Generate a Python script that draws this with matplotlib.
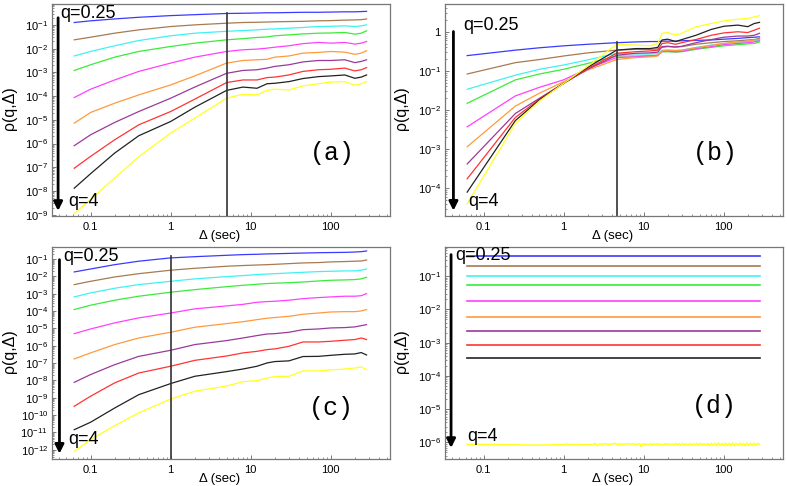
import numpy as np
import matplotlib
matplotlib.use("Agg")
import matplotlib.pyplot as plt
from matplotlib.ticker import LogLocator, NullFormatter

plt.rcParams['font.family'] = ['Liberation Sans', 'DejaVu Sans']
plt.rcParams['axes.unicode_minus'] = False

# q = 0.25 ... 4, top to bottom
colors = ['#3a3aff', '#a87a50', '#40f2f2', '#3aeb3a', '#ff40ff',
          '#ff9a3c', '#9a3a9a', '#ff3333', '#222222', '#ffff22']

# lag in seconds
dt_ac = [0.0625, 0.1, 0.2, 0.4, 1, 2, 5, 8, 12, 16, 20, 30, 45, 70, 100, 150, 200, 240, 280]
dt_b = [0.0625, 0.25, 0.5, 1, 2, 4.6, 8, 12, 15, 17, 20, 25, 30, 45, 70, 100, 150, 200, 240, 280]
dt_d = [0.0625, 280]

# log10 of rho(q, delta)
a_log = [
    [-0.90, -0.83, -0.75, -0.68, -0.61, -0.57, -0.52, -0.51, -0.50, -0.49, -0.49, -0.48, -0.47, -0.47, -0.46, -0.45, -0.45, -0.44, -0.43],
    [-1.63, -1.52, -1.35, -1.21, -1.07, -1.00, -0.93, -0.90, -0.89, -0.88, -0.87, -0.86, -0.85, -0.83, -0.82, -0.80, -0.79, -0.78, -0.75],
    [-2.31, -2.12, -1.88, -1.66, -1.46, -1.35, -1.27, -1.24, -1.21, -1.18, -1.17, -1.14, -1.11, -1.07, -1.06, -1.04, -1.07, -1.04, -1.00],
    [-2.92, -2.68, -2.36, -2.12, -1.91, -1.77, -1.63, -1.58, -1.53, -1.51, -1.46, -1.42, -1.38, -1.35, -1.34, -1.32, -1.39, -1.35, -1.25],
    [-4.06, -3.71, -3.32, -2.96, -2.61, -2.36, -2.12, -2.05, -2.02, -1.98, -1.94, -1.88, -1.79, -1.74, -1.77, -1.74, -1.81, -1.77, -1.70],
    [-5.14, -4.69, -4.30, -3.95, -3.53, -3.15, -2.61, -2.50, -2.47, -2.45, -2.36, -2.31, -2.19, -2.16, -2.12, -2.15, -2.24, -2.19, -2.09],
    [-6.09, -5.63, -5.11, -4.65, -4.09, -3.62, -3.04, -2.92, -2.89, -2.82, -2.75, -2.68, -2.56, -2.50, -2.50, -2.47, -2.59, -2.54, -2.47],
    [-7.04, -6.54, -5.84, -5.21, -4.65, -4.13, -3.43, -3.32, -3.32, -3.22, -3.20, -3.11, -2.96, -2.89, -2.87, -2.82, -2.94, -2.89, -2.80],
    [-7.88, -7.27, -6.40, -5.67, -5.07, -4.47, -3.76, -3.62, -3.67, -3.48, -3.46, -3.39, -3.26, -3.18, -3.15, -3.11, -3.25, -3.20, -3.11],
    [-8.95, -8.35, -7.45, -6.55, -5.56, -4.93, -4.09, -3.92, -3.95, -3.76, -3.71, -3.74, -3.57, -3.48, -3.41, -3.39, -3.54, -3.48, -3.39],
]

b_log = [
    [-0.61, -0.47, -0.41, -0.36, -0.32, -0.28, -0.26, -0.25, -0.25, -0.24, -0.24, -0.24, -0.23, -0.22, -0.21, -0.19, -0.17, -0.15, -0.14, -0.13],
    [-1.08, -0.79, -0.71, -0.62, -0.54, -0.47, -0.45, -0.45, -0.44, -0.40, -0.38, -0.39, -0.38, -0.32, -0.28, -0.25, -0.23, -0.21, -0.20, -0.17],
    [-1.47, -1.11, -0.96, -0.85, -0.72, -0.55, -0.57, -0.57, -0.55, -0.47, -0.47, -0.48, -0.47, -0.40, -0.34, -0.30, -0.27, -0.26, -0.23, -0.21],
    [-1.83, -1.23, -1.08, -0.96, -0.81, -0.62, -0.62, -0.61, -0.60, -0.51, -0.51, -0.52, -0.51, -0.45, -0.40, -0.36, -0.33, -0.31, -0.30, -0.26],
    [-2.43, -1.64, -1.42, -1.23, -0.94, -0.66, -0.64, -0.62, -0.60, -0.51, -0.50, -0.51, -0.50, -0.43, -0.38, -0.33, -0.30, -0.28, -0.26, -0.23],
    [-2.94, -1.90, -1.57, -1.28, -0.98, -0.71, -0.66, -0.64, -0.62, -0.49, -0.47, -0.48, -0.47, -0.41, -0.35, -0.30, -0.26, -0.24, -0.21, -0.19],
    [-3.38, -2.09, -1.70, -1.32, -0.96, -0.60, -0.55, -0.54, -0.52, -0.38, -0.37, -0.39, -0.37, -0.28, -0.20, -0.14, -0.11, -0.11, -0.09, -0.04],
    [-3.76, -2.19, -1.72, -1.32, -0.94, -0.55, -0.51, -0.49, -0.47, -0.30, -0.28, -0.32, -0.28, -0.20, -0.09, -0.03, 0.00, -0.02, 0.04, 0.09],
    [-4.10, -2.27, -1.74, -1.32, -0.91, -0.47, -0.43, -0.43, -0.40, -0.21, -0.19, -0.25, -0.20, -0.09, 0.06, 0.14, 0.17, 0.13, 0.21, 0.24],
    [-4.40, -2.34, -1.77, -1.32, -0.88, -0.32, -0.34, -0.36, -0.30, -0.04, -0.02, -0.08, -0.04, 0.13, 0.21, 0.28, 0.32, 0.34, 0.38, 0.41],
]

c_log = [
    [-1.75, -1.58, -1.33, -1.13, -0.94, -0.87, -0.79, -0.75, -0.73, -0.71, -0.70, -0.68, -0.66, -0.64, -0.63, -0.62, -0.60, -0.58, -0.54],
    [-2.48, -2.29, -2.04, -1.85, -1.65, -1.54, -1.42, -1.38, -1.35, -1.33, -1.31, -1.27, -1.23, -1.21, -1.17, -1.15, -1.13, -1.12, -1.06],
    [-3.19, -2.96, -2.69, -2.48, -2.29, -2.15, -2.02, -1.96, -1.90, -1.87, -1.85, -1.81, -1.77, -1.73, -1.71, -1.69, -1.69, -1.65, -1.58],
    [-3.92, -3.67, -3.38, -3.15, -2.92, -2.77, -2.60, -2.52, -2.46, -2.42, -2.40, -2.37, -2.33, -2.27, -2.23, -2.21, -2.19, -2.15, -2.06],
    [-5.31, -5.04, -4.69, -4.40, -4.12, -3.88, -3.71, -3.62, -3.50, -3.46, -3.44, -3.38, -3.29, -3.23, -3.19, -3.15, -3.15, -3.12, -3.00],
    [-6.77, -6.42, -5.94, -5.56, -5.23, -4.94, -4.73, -4.62, -4.50, -4.42, -4.38, -4.31, -4.19, -4.12, -4.06, -4.04, -4.04, -4.00, -3.92],
    [-8.12, -7.67, -7.10, -6.62, -6.27, -5.94, -5.71, -5.56, -5.42, -5.33, -5.31, -5.23, -5.08, -5.04, -4.98, -4.96, -4.92, -4.85, -4.79],
    [-9.50, -8.92, -8.15, -7.58, -7.19, -6.85, -6.60, -6.42, -6.33, -6.23, -6.19, -6.04, -5.79, -5.79, -5.75, -5.69, -5.65, -5.56, -5.65],
    [-10.85, -10.42, -9.60, -8.83, -8.19, -7.77, -7.50, -7.35, -7.19, -7.00, -6.92, -6.88, -6.63, -6.62, -6.56, -6.50, -6.48, -6.40, -6.54],
    [-12.10, -11.42, -10.62, -9.88, -9.08, -8.63, -8.33, -8.08, -8.02, -7.87, -7.79, -7.77, -7.46, -7.46, -7.40, -7.35, -7.29, -7.23, -7.38],
]

# panel d: flat levels for q=0.25 .. q=3.x
d_levels = [-0.40, -0.70, -0.98, -1.25, -1.75, -2.23, -2.66, -3.08, -3.46]

# panel d: q=4 (noisy)
d_yellow_dt = [0.0625, 0.1, 0.2, 0.36, 0.6, 0.8, 1.0, 1.1, 1.2, 1.4, 1.7, 2.0, 2.3, 2.5, 2.6, 2.8,
               3.0, 3.3, 3.6, 4.0, 4.3, 4.6, 5.0, 5.5, 6.0, 6.5, 7.0, 7.5, 8.0, 8.5, 9.0, 9.3, 9.6,
               10, 10.5, 11, 11.6, 12.2, 12.8, 13.5, 14.2, 15, 15.8, 16.6, 17.5, 18.4, 19.4, 20.4,
               21.5, 22.6, 23.8, 25, 26.3, 27.7, 29.2, 30.7, 32.3, 34, 35.8, 37.7, 39.7, 41.8, 44,
               46.3, 48.7, 51.3, 54, 56.8, 59.8, 63, 66.3, 69.8, 73.5, 77.4, 81.5, 85.8, 90.3, 95,
               100, 105, 111, 117, 123, 129, 136, 143, 151, 159, 167, 176, 185, 195, 205, 216, 227,
               239, 252, 265, 280]
d_yellow_log = [-6.06, -6.06, -6.07, -6.08, -6.08, -6.07, -6.07, -6.05, -6.07, -6.06, -6.07, -6.06, -6.07, -6.03, -6.10, -6.05,
                -6.06, -6.04, -6.06, -6.05, -6.03, -6.06, -6.05, -6.06, -6.05, -6.04, -6.06, -6.04, -6.07, -6.05, -6.04, -6.13, -6.06,
                -6.04, -6.08, -6.05, -6.07, -6.04, -6.08, -6.05, -6.07, -6.04, -6.08, -6.05, -6.08, -6.04, -6.07, -6.04,
                -6.08, -6.05, -6.08, -6.03, -6.08, -6.04, -6.09, -6.03, -6.08, -6.04, -6.09, -6.03, -6.09, -6.04, -6.08,
                -6.03, -6.09, -6.03, -6.09, -6.04, -6.09, -6.03, -6.10, -6.03, -6.09, -6.03, -6.10, -6.02, -6.09, -6.03,
                -6.10, -6.02, -6.09, -6.03, -6.10, -6.02, -6.10, -6.03, -6.09, -6.02, -6.10, -6.03, -6.10, -6.02, -6.09, -6.03, -6.10,
                -6.02, -6.09, -6.03, -6.06]

panels = [
    # name, axes rect, ylim (log10), yticks exps, vline (x, top log10)
    dict(tag='(a)', rect=[0.0661, 0.5556, 0.4295, 0.4362], ylim=(-9.05, -0.12), yexp=range(-9, 0),
         vline=(5, -0.51), arrow=(0.018, 0.935, 0.024), q1=(0.024, 0.956), q4=(0.048, 0.067), lab=(0.828, 0.297)),
    dict(tag='(b)', rect=[0.5654, 0.5556, 0.4295, 0.4362], ylim=(-4.71, 0.71), yexp=range(-4, 1),
         vline=(4.6, -0.255), arrow=(0.025, 0.87, 0.025), q1=(0.054, 0.90), q4=(0.07, 0.067), lab=(0.80, 0.297)),
    dict(tag='(c)', rect=[0.0661, 0.0556, 0.4295, 0.4362], ylim=(-12.54, -0.31), yexp=range(-12, 0),
         vline=(1, -0.85), arrow=(0.022, 0.94, 0.025), q1=(0.032, 0.956), q4=(0.048, 0.091), lab=(0.826, 0.24)),
    dict(tag='(d)', rect=[0.5654, 0.0556, 0.4295, 0.4362], ylim=(-6.50, -0.12), yexp=range(-6, 0),
         vline=None, arrow=(0.018, 0.964, 0.052), q1=(0.029, 0.959), q4=(0.066, 0.104), lab=(0.798, 0.248)),
]

fig = plt.figure(figsize=(7.87, 4.86), dpi=100)

for i, p in enumerate(panels):
    ax = fig.add_axes(p['rect'])
    ax.set_xscale('log')
    ax.set_yscale('log')
    ax.set_xlim(0.033, 550)
    ax.set_ylim(10 ** p['ylim'][0], 10 ** p['ylim'][1])

    if i == 0:
        for col, v in zip(colors, a_log):
            ax.plot(dt_ac, 10 ** np.array(v), color=col, lw=0.9)
    elif i == 1:
        for col, v in zip(colors, b_log):
            ax.plot(dt_b, 10 ** np.array(v), color=col, lw=0.9)
    elif i == 2:
        for col, v in zip(colors, c_log):
            ax.plot(dt_ac, 10 ** np.array(v), color=col, lw=0.9)
    else:
        for col, v in zip(colors[:9], d_levels):
            ax.plot(dt_d, [10 ** v, 10 ** v], color=col, lw=1.2)
        ax.plot(d_yellow_dt, 10 ** np.array(d_yellow_log), color=colors[9], lw=1.1)

    if p['vline'] is not None:
        vx, vtop = p['vline']
        ax.plot([vx, vx], [10 ** p['ylim'][0], 10 ** vtop], color='#333333', lw=1.2)

    ax.set_xticks([0.1, 1, 10, 100])
    ax.set_xticklabels(['0.1', '1', '10', '100'])
    ax.xaxis.set_minor_locator(LogLocator(base=10, subs=np.arange(2, 10), numticks=20))
    ax.xaxis.set_minor_formatter(NullFormatter())
    ax.set_yticks([10.0 ** k for k in p['yexp']])
    ax.set_yticklabels([r'$\mathdefault{10^{%d}}$' % k if k != 0 else '1' for k in p['yexp']])
    ax.yaxis.set_minor_locator(LogLocator(base=10, subs=np.arange(2, 10), numticks=30))
    ax.yaxis.set_minor_formatter(NullFormatter())
    ax.tick_params(which='both', direction='in', labelsize=8, color='#666666',
                   top=False, right=False)
    ax.tick_params(which='major', length=3, width=0.6)
    ax.tick_params(which='minor', length=1.5, width=0.5)
    ax.tick_params(axis='x', pad=4)
    ax.tick_params(axis='y', pad=3)
    for s in ax.spines.values():
        s.set_color('#777777')
        s.set_linewidth(0.9)

    ax.set_xlabel('Δ (sec)', fontsize=9.5)
    ax.xaxis.set_label_coords(0.497, -0.068)
    ax.set_ylabel('ρ(q,Δ)', fontsize=11.5)
    ax.yaxis.set_label_coords(-0.105, 0.51)

    ax_x, ytop, ybot = p['arrow']
    ax.annotate('', xy=(ax_x, ybot), xytext=(ax_x, ytop), xycoords='axes fraction',
                arrowprops=dict(arrowstyle='-|>', color='black', lw=2.0,
                                mutation_scale=13, shrinkA=0, shrinkB=0))
    ax.text(p['q1'][0], p['q1'][1], 'q=0.25', transform=ax.transAxes,
            fontsize=13, ha='left', va='center')
    ax.text(p['q4'][0], p['q4'][1], 'q=4', transform=ax.transAxes,
            fontsize=13, ha='left', va='center')
    ax.text(p['lab'][0], p['lab'][1], p['tag'], transform=ax.transAxes,
            fontsize=18, family='Liberation Mono', ha='center', va='center')

fig.savefig('out.png', dpi=100)
